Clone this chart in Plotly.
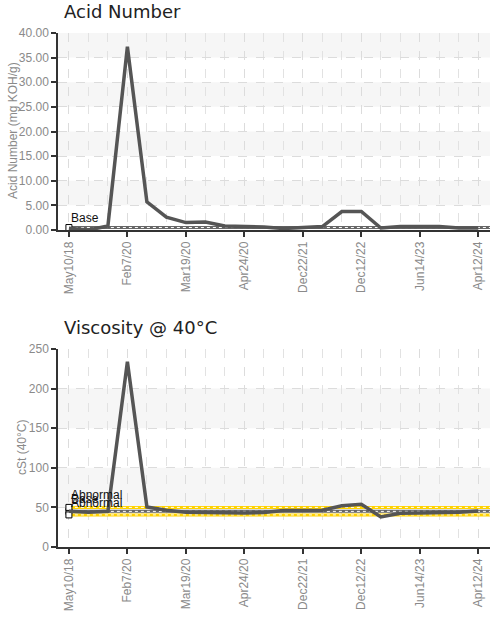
import plotly.graph_objects as go

# ---------------- data ----------------
tick_labels = ["May10/18", "Feb7/20", "Mar19/20", "Apr24/20", "Dec22/21",
               "Dec12/22", "Jun14/23", "Apr12/24"]
acid = [0.35, 0.0, 0.8, 37.2, 5.7, 2.6, 1.5, 1.6, 0.8, 0.7, 0.6, 0.3,
        0.5, 0.7, 3.75, 3.75, 0.4, 0.7, 0.7, 0.7, 0.4, 0.4]
visc = [45, 44, 45, 234, 50.5, 46.5, 44, 43.5, 43, 43, 43.5, 46,
        46, 46.5, 52, 54, 38, 42.5, 43, 43, 44, 45.5]
acid_base = 0.5
visc_abn_high = 50
visc_base = 45
visc_abn_low = 40.5

n = len(acid)
xs = list(range(n))
label_step = 3
tickvals = list(range(0, n, label_step))

W, H = 491, 617
FONT = "Liberation Sans, Arial, sans-serif"
GRAY = "#8a8a8a"
LINE = "#555555"
GOLD = "#FFD200"

fig = go.Figure()

x_end = n - 1 + 0.6


def limit(xa, ya, val, color, name):
    fig.add_trace(go.Scatter(x=[0, x_end], y=[val, val], mode="lines",
                             line=dict(color=color, width=3),
                             xaxis=xa, yaxis=ya, hoverinfo="skip", name=name))
    fig.add_trace(go.Scatter(x=[0, x_end], y=[val, val], mode="lines",
                             line=dict(color="white", width=1, dash="dot"),
                             xaxis=xa, yaxis=ya, hoverinfo="skip"))
    fig.add_trace(go.Scatter(x=[0], y=[val], mode="markers",
                             marker=dict(symbol="square", size=6, color="white",
                                         line=dict(color="black", width=1)),
                             xaxis=xa, yaxis=ya, hoverinfo="skip"))


# chart 1
limit("x", "y", acid_base, "#666666", "Base")
fig.add_trace(go.Scatter(x=xs, y=acid, mode="lines",
                         line=dict(color=LINE, width=3.5), xaxis="x", yaxis="y",
                         name="Acid Number"))
# chart 2
limit("x2", "y2", visc_base, "#666666", "Base")
limit("x2", "y2", visc_abn_low, GOLD, "Abnormal")
limit("x2", "y2", visc_abn_high, GOLD, "Abnormal")
fig.add_trace(go.Scatter(x=xs, y=visc, mode="lines",
                         line=dict(color=LINE, width=3.5), xaxis="x2", yaxis="y2",
                         name="Viscosity"))

# domains in pixels
top1, bot1 = 33, 230
top2, bot2 = 349, 547
d1 = [1 - bot1 / H, 1 - top1 / H]
d2 = [1 - bot2 / H, 1 - top2 / H]

xcommon = dict(range=[-0.56, 21.6], tickmode="array", tickvals=tickvals,
               ticktext=tick_labels, tickangle=-90, automargin=False,
               tickfont=dict(family=FONT, size=12, color=GRAY),
               ticks="outside", ticklen=5, tickcolor="#333", tickwidth=1.5,
               showline=True, linecolor="#333", linewidth=1.5,
               showgrid=True, gridcolor="#dcdcdc", griddash="dash", gridwidth=1,
               minor=dict(dtick=1, tick0=0, showgrid=True, gridcolor="#e2e2e2",
                          griddash="dash", gridwidth=1, ticks=""),
               zeroline=False, fixedrange=True)

ycommon = dict(tickfont=dict(family=FONT, size=12, color=GRAY), automargin=False,
               ticks="outside", ticklen=5, tickcolor="#333", tickwidth=1.5,
               showline=True, linecolor="#333", linewidth=1.5,
               showgrid=True, gridcolor="#dcdcdc", griddash="dash", gridwidth=1,
               zeroline=False, fixedrange=True)

fig.update_layout(
    width=W, height=H,
    margin=dict(l=58, r=1, t=0, b=0),
    paper_bgcolor="white", plot_bgcolor="white",
    showlegend=False,
    xaxis=dict(**xcommon, anchor="y"),
    yaxis=dict(**ycommon, domain=d1, range=[0, 40], dtick=5, tickformat=".2f"),
    xaxis2=dict(**xcommon, anchor="y2"),
    yaxis2=dict(**ycommon, domain=d2, range=[0, 250], dtick=50),
)

# alternating background bands
for ya, top, step in (("y", 40, 5), ("y2", 250, 50)):
    v = step
    while v < top:
        fig.add_shape(type="rect", xref=("x" if ya == "y" else "x2") + " domain",
                      x0=0, x1=1, yref=ya, y0=v, y1=v + step,
                      fillcolor="#f6f6f6", line=dict(width=0), layer="below")
        v += 2 * step

plot_w = W - 59


def px_x(px):
    return (px - 58) / plot_w


# titles
for txt, ypx in (("Acid Number", 12), ("Viscosity @ 40°C", 327)):
    fig.add_annotation(text=txt, xref="paper", yref="paper",
                       x=px_x(62), y=1 - ypx / H, xanchor="left",
                       yanchor="middle", showarrow=False,
                       font=dict(family="DejaVu Sans", size=18, color="#222"))

# y-axis titles
for txt, xpx, ypx in (("Acid Number (mg KOH/g)", 13, 131), ("cSt (40°C)", 22, 448)):
    fig.add_annotation(text=txt, xref="paper", yref="paper",
                       x=px_x(xpx), y=1 - ypx / H, xanchor="center",
                       yanchor="middle", textangle=-90, showarrow=False,
                       font=dict(family=FONT, size=12, color=GRAY))

# limit labels
lab_font = dict(family=FONT, size=12, color="#111")
fig.add_annotation(text="Base", x=0, y=acid_base, xref="x", yref="y",
                   xanchor="left", yanchor="bottom", yshift=1, showarrow=False,
                   font=lab_font)
for val, txt in ((visc_abn_high, "Abnormal"), (visc_base, "Base"),
                 (visc_abn_low, "Abnormal")):
    fig.add_annotation(text=txt, x=0, y=val, xref="x2", yref="y2",
                       xanchor="left", yanchor="bottom", yshift=3,
                       showarrow=False, font=lab_font)

fig.write_html("out.html", config={"displayModeBar": False},
               post_script="document.body.style.margin='0px';")
